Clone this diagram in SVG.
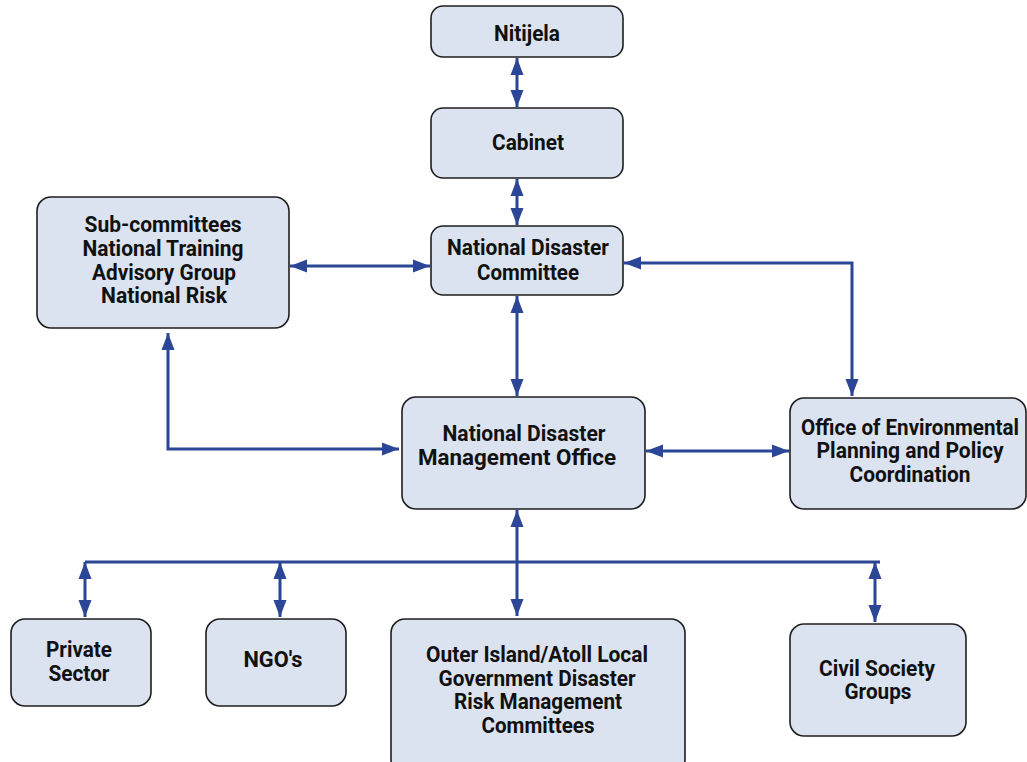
<svg xmlns="http://www.w3.org/2000/svg" width="1027" height="762" viewBox="0 0 1027 762">
<style>
.box{fill:#dae3ef;stroke:#1e1e1e;stroke-width:1.6}
.t{font-family:"Roboto","Liberation Sans",sans-serif;font-weight:bold;font-size:22px;fill:#111;text-anchor:middle}
.c{fill:none;stroke:#2b4696;stroke-width:3}
.a{marker-start:url(#ah);marker-end:url(#ah)}
</style>
<defs>
<marker id="ah" markerUnits="userSpaceOnUse" markerWidth="18" markerHeight="14" refX="17" refY="7" orient="auto-start-reverse">
<path d="M0,0.5 L17,7 L0,13.5 Z" fill="#2b4696"/>
</marker>
</defs>
<rect width="1027" height="762" fill="#fff"/>
<g id="connectors">
<path class="c a" d="M517,58 L517,107"/>
<path class="c a" d="M517,179 L517,225"/>
<path class="c a" d="M290,266 L430,266"/>
<path class="c a" d="M624,263 L852,263 L852,396"/>
<path class="c a" d="M517,296 L517,396"/>
<path class="c a" d="M168,333 L168,449 L399,449"/>
<path class="c a" d="M646,451 L789,451"/>
<path class="c a" d="M517,510 L517,616"/>
<path class="c" d="M85,562 L880,562"/>
<path class="c a" d="M85,562 L85,617"/>
<path class="c a" d="M280,562 L280,617"/>
<path class="c a" d="M875,562 L875,622"/>
</g>
<g id="nitijela"><rect class="box" x="431" y="6" width="192" height="51" rx="12"/><text class="t" x="527" y="41" textLength="66" lengthAdjust="spacingAndGlyphs">Nitijela</text></g>
<g id="cabinet"><rect class="box" x="431" y="108" width="192" height="70" rx="12"/><text class="t" x="528" y="150" textLength="72" lengthAdjust="spacingAndGlyphs">Cabinet</text></g>
<g id="ndc"><rect class="box" x="431" y="226" width="192" height="69" rx="12"/>
<text class="t" x="528" y="255" textLength="162" lengthAdjust="spacingAndGlyphs">National Disaster</text>
<text class="t" x="528" y="280" textLength="102" lengthAdjust="spacingAndGlyphs">Committee</text></g>
<g id="subcommittees"><rect class="box" x="37" y="197" width="252" height="131" rx="14"/>
<text class="t" x="163" y="232" textLength="157" lengthAdjust="spacingAndGlyphs">Sub-committees</text>
<text class="t" x="163" y="256" textLength="161" lengthAdjust="spacingAndGlyphs">National Training</text>
<text class="t" x="164" y="280" textLength="144" lengthAdjust="spacingAndGlyphs">Advisory Group</text>
<text class="t" x="164" y="303" textLength="126" lengthAdjust="spacingAndGlyphs">National Risk</text></g>
<g id="ndmo"><rect class="box" x="402" y="397" width="243" height="112" rx="14"/>
<text class="t" x="524" y="441" textLength="163" lengthAdjust="spacingAndGlyphs">National Disaster</text>
<text class="t" x="517" y="465" textLength="198" lengthAdjust="spacingAndGlyphs">Management Office</text></g>
<g id="oeppc"><rect class="box" x="790" y="398" width="236" height="111" rx="14"/>
<text class="t" transform="translate(910,435) scale(0.872,1)" x="0" y="0" textLength="250" lengthAdjust="spacingAndGlyphs">Office of Environmental</text>
<text class="t" x="910" y="458" textLength="187" lengthAdjust="spacingAndGlyphs">Planning and Policy</text>
<text class="t" x="910" y="482" textLength="121" lengthAdjust="spacingAndGlyphs">Coordination</text></g>
<g id="private"><rect class="box" x="11" y="619" width="140" height="87" rx="14"/>
<text class="t" x="79" y="657" textLength="66" lengthAdjust="spacingAndGlyphs">Private</text>
<text class="t" x="79" y="681" textLength="61" lengthAdjust="spacingAndGlyphs">Sector</text></g>
<g id="ngos"><rect class="box" x="206" y="619" width="140" height="87" rx="14"/>
<text class="t" x="273" y="667" textLength="59" lengthAdjust="spacingAndGlyphs">NGO's</text></g>
<g id="outer"><rect class="box" x="391" y="619" width="294" height="155" rx="14"/>
<text class="t" x="537" y="662" textLength="222" lengthAdjust="spacingAndGlyphs">Outer Island/Atoll Local</text>
<text class="t" x="537" y="686" textLength="197" lengthAdjust="spacingAndGlyphs">Government Disaster</text>
<text class="t" x="538" y="709" textLength="168" lengthAdjust="spacingAndGlyphs">Risk Management</text>
<text class="t" x="538" y="733" textLength="113" lengthAdjust="spacingAndGlyphs">Committees</text></g>
<g id="civil"><rect class="box" x="790" y="624" width="176" height="112" rx="14"/>
<text class="t" x="877" y="676" textLength="116" lengthAdjust="spacingAndGlyphs">Civil Society</text>
<text class="t" x="878" y="699" textLength="67" lengthAdjust="spacingAndGlyphs">Groups</text></g>
</svg>
